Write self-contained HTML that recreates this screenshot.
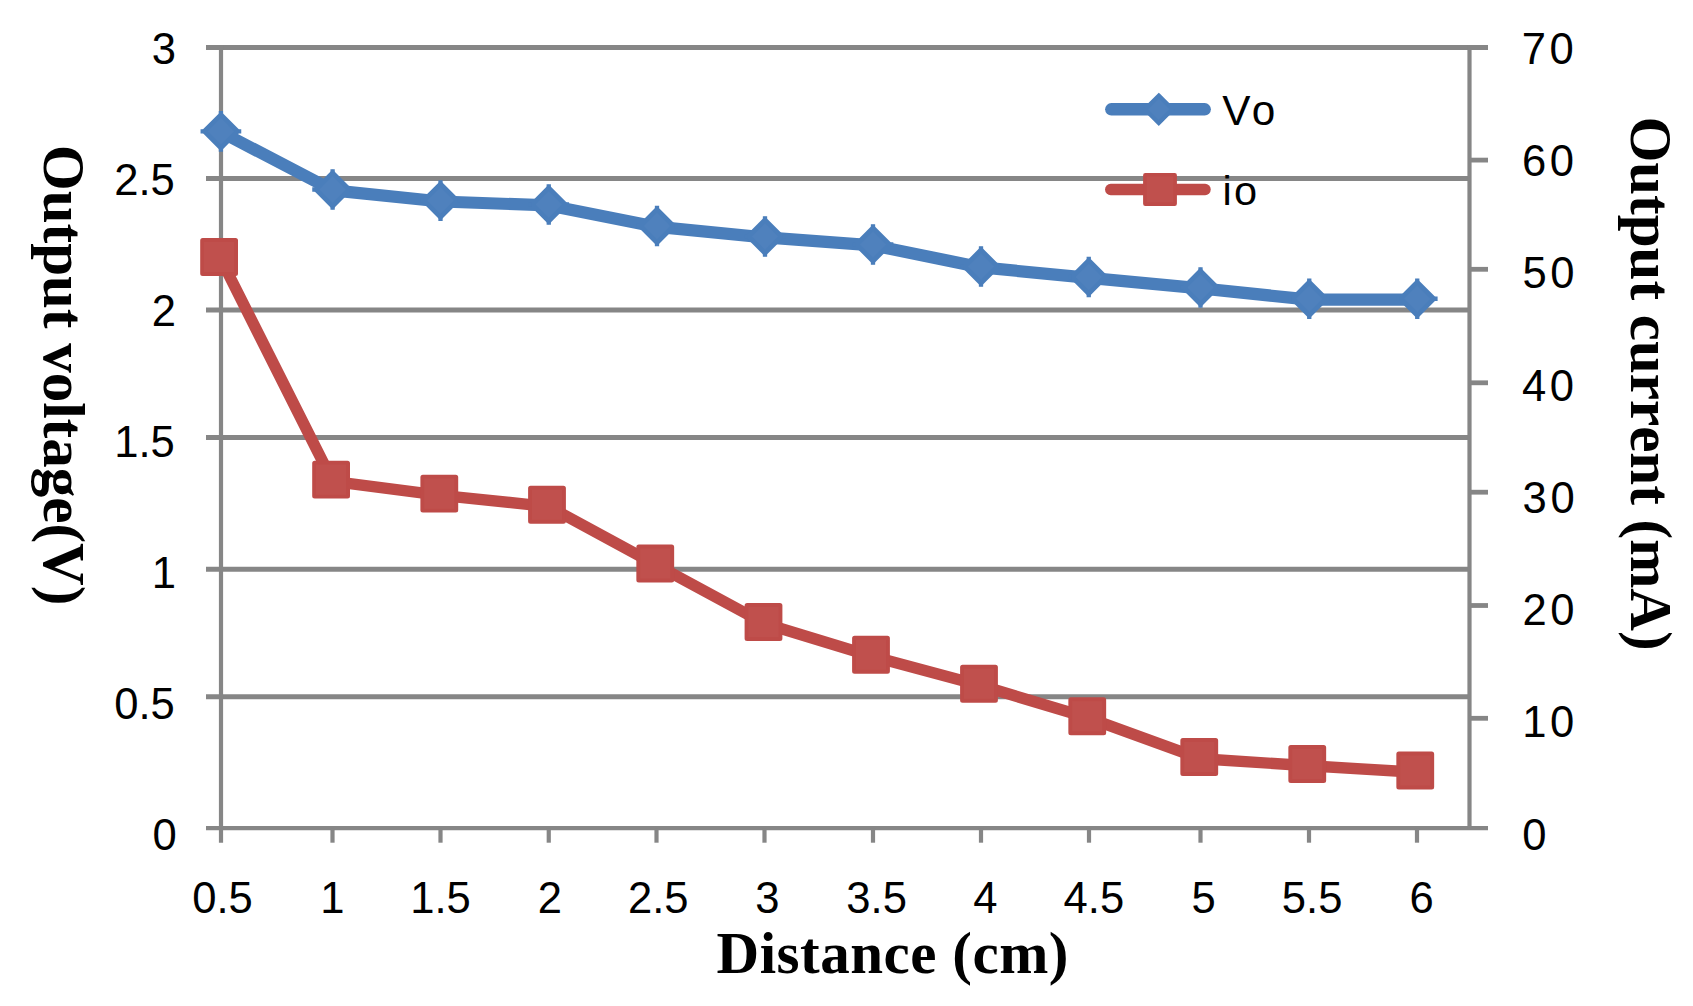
<!DOCTYPE html>
<html lang="en"><head><meta charset="utf-8"><title>Output voltage and output current versus distance</title>
<style>html,body{margin:0;padding:0;background:#fff}svg{display:block}text{font-kerning:none}.t{font-family:"Liberation Sans",sans-serif;fill:#000}.b{font-family:"Liberation Serif",serif;font-weight:bold;fill:#000}</style></head><body>
<svg width="1693" height="1006" viewBox="0 0 1693 1006">
<rect width="1693" height="1006" fill="#fff"/>
<g stroke="#868686" stroke-width="4.85" fill="none">
<line x1="206" y1="47.45" x2="1488" y2="47.45"/>
<line x1="206" y1="178.45" x2="1469.5" y2="178.45"/>
<line x1="206" y1="310" x2="1469.5" y2="310"/>
<line x1="206" y1="437.5" x2="1469.5" y2="437.5"/>
<line x1="206" y1="569.2" x2="1469.5" y2="569.2"/>
<line x1="206" y1="696.7" x2="1469.5" y2="696.7"/>
</g>
<g stroke="#868686" stroke-width="4.2" fill="none">
<line x1="206" y1="828.2" x2="1488" y2="828.2"/>
<line x1="221.0" y1="45.4" x2="221.0" y2="842.7"/>
<line x1="1469.5" y1="45.4" x2="1469.5" y2="830.1"/>
<line x1="332.5" y1="828.2" x2="332.5" y2="842.7"/>
<line x1="440.5" y1="828.2" x2="440.5" y2="842.7"/>
<line x1="548.75" y1="828.2" x2="548.75" y2="842.7"/>
<line x1="656.5" y1="828.2" x2="656.5" y2="842.7"/>
<line x1="764.5" y1="828.2" x2="764.5" y2="842.7"/>
<line x1="873" y1="828.2" x2="873" y2="842.7"/>
<line x1="981" y1="828.2" x2="981" y2="842.7"/>
<line x1="1089" y1="828.2" x2="1089" y2="842.7"/>
<line x1="1200.5" y1="828.2" x2="1200.5" y2="842.7"/>
<line x1="1309" y1="828.2" x2="1309" y2="842.7"/>
<line x1="1417" y1="828.2" x2="1417" y2="842.7"/>
</g>
<g stroke="#868686" stroke-width="4.8" fill="none">
<line x1="1469.5" y1="160.1" x2="1488" y2="160.1"/>
<line x1="1469.5" y1="269.3" x2="1488" y2="269.3"/>
<line x1="1469.5" y1="382.8" x2="1488" y2="382.8"/>
<line x1="1469.5" y1="492.2" x2="1488" y2="492.2"/>
<line x1="1469.5" y1="605.5" x2="1488" y2="605.5"/>
<line x1="1469.5" y1="718.3" x2="1488" y2="718.3"/>
</g>
<polyline points="220.7,258.8 332.7,481.4 440.9,495.4 548.6,506.55 656.85,565.3 765.1,623.8 872.6,656.55 980.6,685.55 1088.85,718.05 1200.85,758.8 1308.85,765.8 1416.85,772.3" fill="none" stroke="#BE4B48" stroke-width="11.4" stroke-linejoin="round" stroke-linecap="round"/>
<polyline points="221.3,132.2 333.0,190.4 440.9,201.5 549.15,205.4 657.4,226.9 765.4,237.4 873.4,245.4 981.4,267.4 1089.15,277.9 1200.9,288.4 1309.65,299.65 1417.65,299.65" fill="none" stroke="#4A7EBB" stroke-width="12.2" stroke-linejoin="round" stroke-linecap="round"/>
<g>
<rect x="202.1" y="240.0" width="34.0" height="34.0" rx="0.6" fill="#C0504D" stroke="#BE4B48" stroke-width="3.8"/>
<rect x="314.1" y="462.6" width="34.0" height="34.0" rx="0.6" fill="#C0504D" stroke="#BE4B48" stroke-width="3.8"/>
<rect x="422.3" y="476.6" width="34.0" height="34.0" rx="0.6" fill="#C0504D" stroke="#BE4B48" stroke-width="3.8"/>
<rect x="530.0" y="487.75" width="34.0" height="34.0" rx="0.6" fill="#C0504D" stroke="#BE4B48" stroke-width="3.8"/>
<rect x="638.25" y="546.5" width="34.0" height="34.0" rx="0.6" fill="#C0504D" stroke="#BE4B48" stroke-width="3.8"/>
<rect x="746.5" y="605.0" width="34.0" height="34.0" rx="0.6" fill="#C0504D" stroke="#BE4B48" stroke-width="3.8"/>
<rect x="854.0" y="637.75" width="34.0" height="34.0" rx="0.6" fill="#C0504D" stroke="#BE4B48" stroke-width="3.8"/>
<rect x="962.0" y="666.75" width="34.0" height="34.0" rx="0.6" fill="#C0504D" stroke="#BE4B48" stroke-width="3.8"/>
<rect x="1070.25" y="699.25" width="34.0" height="34.0" rx="0.6" fill="#C0504D" stroke="#BE4B48" stroke-width="3.8"/>
<rect x="1182.25" y="740.0" width="34.0" height="34.0" rx="0.6" fill="#C0504D" stroke="#BE4B48" stroke-width="3.8"/>
<rect x="1290.25" y="747.0" width="34.0" height="34.0" rx="0.6" fill="#C0504D" stroke="#BE4B48" stroke-width="3.8"/>
<rect x="1398.25" y="753.5" width="34.0" height="34.0" rx="0.6" fill="#C0504D" stroke="#BE4B48" stroke-width="3.8"/>
</g><g>
<path d="M220.9,114.7 L237.5,131.3 L220.9,147.9 L204.3,131.3 Z" fill="#4F81BD" stroke="#4A7EBB" stroke-width="4.67" stroke-linejoin="miter"/><path d="M218.75,110.95h4.3v3.0h-4.3z M218.75,148.65h4.3v3.0h-4.3z M200.55,129.15h3.0v4.3h-3.0z M238.25,129.15h3.0v4.3h-3.0z" fill="#4A7EBB"/>
<path d="M332.6,172.9 L349.2,189.5 L332.6,206.1 L316.0,189.5 Z" fill="#4F81BD" stroke="#4A7EBB" stroke-width="4.67" stroke-linejoin="miter"/><path d="M330.45,169.15h4.3v3.0h-4.3z M330.45,206.85h4.3v3.0h-4.3z M312.25,187.35h3.0v4.3h-3.0z M349.95,187.35h3.0v4.3h-3.0z" fill="#4A7EBB"/>
<path d="M440.5,184.0 L457.1,200.6 L440.5,217.2 L423.9,200.6 Z" fill="#4F81BD" stroke="#4A7EBB" stroke-width="4.67" stroke-linejoin="miter"/><path d="M438.35,180.25h4.3v3.0h-4.3z M438.35,217.95h4.3v3.0h-4.3z M420.15,198.45h3.0v4.3h-3.0z M457.85,198.45h3.0v4.3h-3.0z" fill="#4A7EBB"/>
<path d="M548.75,187.9 L565.35,204.5 L548.75,221.1 L532.15,204.5 Z" fill="#4F81BD" stroke="#4A7EBB" stroke-width="4.67" stroke-linejoin="miter"/><path d="M546.6,184.15h4.3v3.0h-4.3z M546.6,221.85h4.3v3.0h-4.3z M528.4,202.35h3.0v4.3h-3.0z M566.1,202.35h3.0v4.3h-3.0z" fill="#4A7EBB"/>
<path d="M657,209.4 L673.6,226 L657,242.6 L640.4,226 Z" fill="#4F81BD" stroke="#4A7EBB" stroke-width="4.67" stroke-linejoin="miter"/><path d="M654.85,205.65h4.3v3.0h-4.3z M654.85,243.35h4.3v3.0h-4.3z M636.65,223.85h3.0v4.3h-3.0z M674.35,223.85h3.0v4.3h-3.0z" fill="#4A7EBB"/>
<path d="M765,219.9 L781.6,236.5 L765,253.1 L748.4,236.5 Z" fill="#4F81BD" stroke="#4A7EBB" stroke-width="4.67" stroke-linejoin="miter"/><path d="M762.85,216.15h4.3v3.0h-4.3z M762.85,253.85h4.3v3.0h-4.3z M744.65,234.35h3.0v4.3h-3.0z M782.35,234.35h3.0v4.3h-3.0z" fill="#4A7EBB"/>
<path d="M873,227.9 L889.6,244.5 L873,261.1 L856.4,244.5 Z" fill="#4F81BD" stroke="#4A7EBB" stroke-width="4.67" stroke-linejoin="miter"/><path d="M870.85,224.15h4.3v3.0h-4.3z M870.85,261.85h4.3v3.0h-4.3z M852.65,242.35h3.0v4.3h-3.0z M890.35,242.35h3.0v4.3h-3.0z" fill="#4A7EBB"/>
<path d="M981,249.9 L997.6,266.5 L981,283.1 L964.4,266.5 Z" fill="#4F81BD" stroke="#4A7EBB" stroke-width="4.67" stroke-linejoin="miter"/><path d="M978.85,246.15h4.3v3.0h-4.3z M978.85,283.85h4.3v3.0h-4.3z M960.65,264.35h3.0v4.3h-3.0z M998.35,264.35h3.0v4.3h-3.0z" fill="#4A7EBB"/>
<path d="M1088.75,260.4 L1105.35,277 L1088.75,293.6 L1072.15,277 Z" fill="#4F81BD" stroke="#4A7EBB" stroke-width="4.67" stroke-linejoin="miter"/><path d="M1086.6,256.65h4.3v3.0h-4.3z M1086.6,294.35h4.3v3.0h-4.3z M1068.4,274.85h3.0v4.3h-3.0z M1106.1,274.85h3.0v4.3h-3.0z" fill="#4A7EBB"/>
<path d="M1200.5,270.9 L1217.1,287.5 L1200.5,304.1 L1183.9,287.5 Z" fill="#4F81BD" stroke="#4A7EBB" stroke-width="4.67" stroke-linejoin="miter"/><path d="M1198.35,267.15h4.3v3.0h-4.3z M1198.35,304.85h4.3v3.0h-4.3z M1180.15,285.35h3.0v4.3h-3.0z M1217.85,285.35h3.0v4.3h-3.0z" fill="#4A7EBB"/>
<path d="M1309.25,282.15 L1325.85,298.75 L1309.25,315.35 L1292.65,298.75 Z" fill="#4F81BD" stroke="#4A7EBB" stroke-width="4.67" stroke-linejoin="miter"/><path d="M1307.1,278.4h4.3v3.0h-4.3z M1307.1,316.1h4.3v3.0h-4.3z M1288.9,296.6h3.0v4.3h-3.0z M1326.6,296.6h3.0v4.3h-3.0z" fill="#4A7EBB"/>
<path d="M1417.25,282.15 L1433.85,298.75 L1417.25,315.35 L1400.65,298.75 Z" fill="#4F81BD" stroke="#4A7EBB" stroke-width="4.67" stroke-linejoin="miter"/><path d="M1415.1,278.4h4.3v3.0h-4.3z M1415.1,316.1h4.3v3.0h-4.3z M1396.9,296.6h3.0v4.3h-3.0z M1434.6,296.6h3.0v4.3h-3.0z" fill="#4A7EBB"/>
</g>
<line x1="1111.3" y1="109.3" x2="1204.7" y2="109.3" stroke="#4A7EBB" stroke-width="12.4" stroke-linecap="round"/>
<path d="M1158.75,95.6 L1172.45,109.3 L1158.75,123.0 L1145.05,109.3 Z" fill="#4F81BD" stroke="#4A7EBB" stroke-width="4.2" stroke-linejoin="miter"/>
<line x1="1110.7" y1="189.5" x2="1205.1" y2="189.5" stroke="#BE4B48" stroke-width="11.3" stroke-linecap="round"/>
<rect x="1144.9" y="174.79999999999998" width="30.2" height="29.3" rx="0.4" fill="#C0504D" stroke="#BE4B48" stroke-width="3.6"/>
<text class="t" x="175.92" y="64.0" font-size="43.6" text-anchor="end">3</text>
<text class="t" x="174.83" y="195.0" font-size="43.6" text-anchor="end">2.5</text>
<text class="t" x="175.98" y="326.0" font-size="43.6" text-anchor="end">2</text>
<text class="t" x="174.83" y="457.0" font-size="43.6" text-anchor="end">1.5</text>
<text class="t" x="175.94" y="588.2" font-size="43.6" text-anchor="end">1</text>
<text class="t" x="174.83" y="718.9" font-size="43.6" text-anchor="end">0.5</text>
<text class="t" x="176.8" y="850.0" font-size="43.6" text-anchor="end">0</text>
<text class="t" x="1521.78" y="64.0" font-size="43.6" text-anchor="start" letter-spacing="3.6">70</text>
<text class="t" x="1521.98" y="175.7" font-size="43.6" text-anchor="start" letter-spacing="3.6">60</text>
<text class="t" x="1522.46" y="287.9" font-size="43.6" text-anchor="start" letter-spacing="3.6">50</text>
<text class="t" x="1521.9" y="400.9" font-size="43.6" text-anchor="start" letter-spacing="3.6">40</text>
<text class="t" x="1522.54" y="512.8" font-size="43.6" text-anchor="start" letter-spacing="3.6">30</text>
<text class="t" x="1522.52" y="625.1" font-size="43.6" text-anchor="start" letter-spacing="3.6">20</text>
<text class="t" x="1522.19" y="737.1" font-size="43.6" text-anchor="start" letter-spacing="3.6">10</text>
<text class="t" x="1522.35" y="850.0" font-size="43.6" text-anchor="start">0</text>
<text class="t" x="222.57" y="913.0" font-size="43.6" text-anchor="middle">0.5</text>
<text class="t" x="332.29" y="913.0" font-size="43.6" text-anchor="middle">1</text>
<text class="t" x="440.51" y="913.0" font-size="43.6" text-anchor="middle">1.5</text>
<text class="t" x="549.75" y="913.0" font-size="43.6" text-anchor="middle">2</text>
<text class="t" x="658.33" y="913.0" font-size="43.6" text-anchor="middle">2.5</text>
<text class="t" x="767.38" y="913.0" font-size="43.6" text-anchor="middle">3</text>
<text class="t" x="876.59" y="913.0" font-size="43.6" text-anchor="middle">3.5</text>
<text class="t" x="985.38" y="913.0" font-size="43.6" text-anchor="middle">4</text>
<text class="t" x="1093.91" y="913.0" font-size="43.6" text-anchor="middle">4.5</text>
<text class="t" x="1203.54" y="913.0" font-size="43.6" text-anchor="middle">5</text>
<text class="t" x="1312.17" y="913.0" font-size="43.6" text-anchor="middle">5.5</text>
<text class="t" x="1421.72" y="913.0" font-size="43.6" text-anchor="middle">6</text>
<text class="t" x="1222.3" y="124.7" font-size="42.3" text-anchor="start" letter-spacing="1.2">Vo</text>
<text class="t" x="1222.4" y="205.2" font-size="41.5" text-anchor="start" letter-spacing="2.3">io</text>
<text class="b" x="892.8" y="972.8" font-size="59" text-anchor="middle" letter-spacing="0.52">Distance (cm)</text>
<text class="b" transform="translate(1630.8,383.5) rotate(90)" font-size="59" text-anchor="middle">Output current (mA)</text>
<text class="b" transform="translate(44.3,375.1) rotate(90)" font-size="59" text-anchor="middle">Output voltage(V)</text>
</svg></body></html>
